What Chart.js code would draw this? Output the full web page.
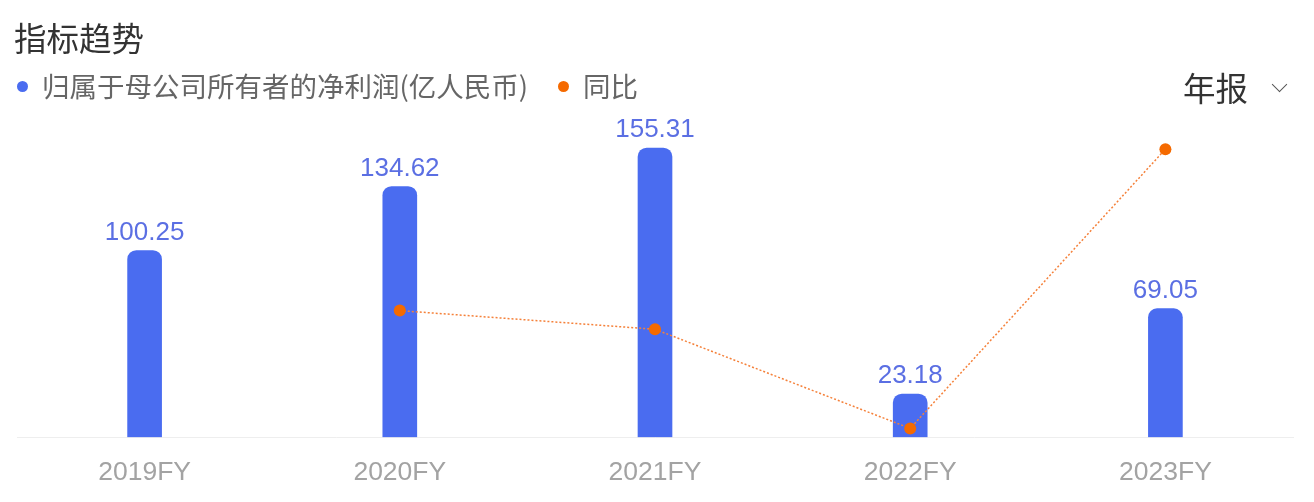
<!DOCTYPE html>
<html><head><meta charset="utf-8">
<script src="https://cdn.jsdelivr.net/npm/chart.js@4/dist/chart.umd.min.js"></script>
<style>
html,body{margin:0;padding:0;background:#fff;}
#wrap{position:relative;width:1314px;height:502px;overflow:hidden;font-family:"Noto Sans CJK SC","Liberation Sans",sans-serif;}
#c{position:absolute;left:0;top:0;}
.t{position:absolute;white-space:nowrap;line-height:1;}
#title{left:14px;top:21px;font-size:32.5px;color:#333;}
.dot{position:absolute;width:11px;height:11px;border-radius:50%;}
.leg{top:72px;font-size:27.5px;color:#666;}
#sel{left:1183px;top:71px;font-size:32.5px;color:#333;}
#chev{position:absolute;left:1274px;top:79px;width:10px;height:10px;border-right:1.5px solid #555;border-bottom:1.5px solid #555;transform:rotate(45deg);}
</style></head>
<body><div id="wrap">
<canvas id="c" width="1314" height="523"></canvas>
<div class="t" id="title">指标趋势</div>
<div class="dot" style="left:17px;top:81px;background:#4a6cf0"></div>
<div class="t leg" style="left:42px">归属于母公司所有者的净利润(亿人民币)</div>
<div class="dot" style="left:558px;top:81px;background:#f56a00"></div>
<div class="t leg" style="left:583px">同比</div>
<div class="t" id="sel">年报</div>
<div id="chev"></div>
</div>
<script>
const categories = ['2019FY','2020FY','2021FY','2022FY','2023FY'];
const netProfit = [100.25, 134.62, 155.31, 23.18, 69.05];
const yoyPct = [null, 34.28, 15.37, -85.07, 197.89];

const barLabels = {
  id:'barLabels',
  afterDatasetsDraw(chart){
    const meta = chart.getDatasetMeta(0);
    const ctx = chart.ctx;
    ctx.save();
    ctx.font = '26px "Liberation Sans", Arial, sans-serif';
    ctx.fillStyle = '#5b6fe3';
    ctx.textAlign = 'center';
    ctx.textBaseline = 'bottom';
    meta.data.forEach((el,i)=>{
      ctx.fillText(netProfit[i].toFixed(2), el.x, el.y - 5);
    });
    ctx.restore();
  }
};

new Chart(document.getElementById('c'), {
  data:{
    labels: categories,
    datasets:[
      {type:'bar', label:'归属于母公司所有者的净利润(亿人民币)', data: netProfit, yAxisID:'y',
       backgroundColor:'#4a6cf0', barThickness:34, borderRadius:{topLeft:9,topRight:9}, borderSkipped:'bottom', order:1},
      {type:'line', label:'同比', data: yoyPct, yAxisID:'y2', borderColor:'#f5813a', borderWidth:1.5,
       borderDash:[2,2], pointRadius:6, pointBackgroundColor:'#f56a00', pointBorderWidth:0, pointHoverRadius:6,
       tension:0, spanGaps:false, order:0}
    ]
  },
  options:{
    responsive:false, animation:false,
    layout:{padding:{top:130,left:17,right:21,bottom:14}},
    plugins:{legend:{display:false}, title:{display:false}, tooltip:{enabled:false}},
    scales:{
      x:{grid:{display:false, drawTicks:false}, border:{display:true,color:'#eeeeee',width:1},
         ticks:{padding:20, color:'#a3a3a3', font:{size:26.5, family:'"Liberation Sans", Arial, sans-serif'}}},
      y:{display:false, min:0, max:165},
      y2:{display:false, min:-94, max:217.3}
    }
  },
  plugins:[barLabels]
});
</script>
</body></html>
